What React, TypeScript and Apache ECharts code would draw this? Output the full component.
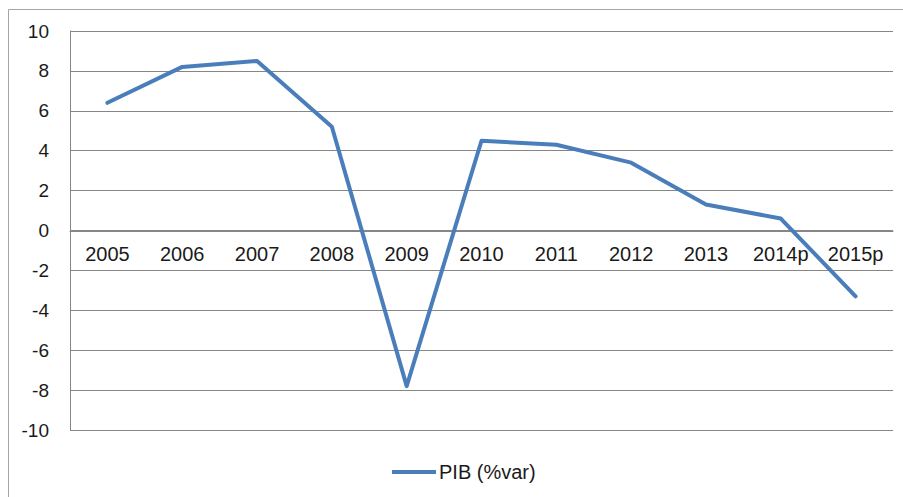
import React, { useEffect, useRef } from "react";
import * as echarts from "echarts";

const categories = ["2005", "2006", "2007", "2008", "2009", "2010", "2011", "2012", "2013", "2014p", "2015p"];
const pibValues = [6.4, 8.2, 8.5, 5.2, -7.8, 4.5, 4.3, 3.4, 1.3, 0.6, -3.3];
const seriesName = "PIB (%var)";

export default function App() {
  const ref = useRef<HTMLDivElement>(null);
  useEffect(() => {
    if (!ref.current) return;
    const chart = echarts.init(ref.current, null, { renderer: "svg" });
    const font = "'Liberation Sans', Arial, sans-serif";
    chart.setOption({
      animation: false,
      backgroundColor: "#ffffff",
      textStyle: { fontFamily: font },
      graphic: [
        {
          type: "rect",
          shape: { x: 8.5, y: 9.5, width: 900, height: 500 },
          style: { fill: "none", stroke: "#a6a6a6", lineWidth: 1 },
          silent: true,
          z: -1,
        },
      ],
      grid: { left: 70, right: 10, top: 31, bottom: 67, containLabel: false },
      xAxis: {
        type: "category",
        data: categories,
        boundaryGap: true,
        position: "bottom",
        offset: -199,
        axisLine: { onZero: false, lineStyle: { color: "#868686", width: 1 } },
        axisTick: { show: false },
        axisLabel: { color: "#1a1a1a", fontSize: 20, margin: 13, fontFamily: font, interval: 0 },
        splitLine: { show: false },
      },
      yAxis: {
        type: "value",
        min: -10,
        max: 10,
        interval: 2,
        axisLine: { show: true, lineStyle: { color: "#868686", width: 1 } },
        axisTick: { show: false },
        axisLabel: { color: "#1a1a1a", fontSize: 19, margin: 21, fontFamily: font },
        splitLine: { show: true, lineStyle: { color: "#868686", width: 1 } },
      },
      legend: {
        show: true,
        left: 387,
        top: 457,
        itemWidth: 44,
        itemHeight: 4,
        textStyle: { color: "#1a1a1a", fontSize: 20, fontFamily: font, padding: [0, 0, 0, -2] },
        data: [{ name: seriesName, icon: "rect" }],
      },
      series: [
        {
          name: seriesName,
          type: "line",
          data: pibValues,
          symbol: "none",
          lineStyle: { color: "#4a7ebb", width: 4, cap: "round", join: "round" },
          itemStyle: { color: "#4a7ebb" },
        },
      ],
    });
    return () => chart.dispose();
  }, []);
  return <div ref={ref} style={{ position: "absolute", left: 0, top: 0, width: 903, height: 497 }} />;
}
